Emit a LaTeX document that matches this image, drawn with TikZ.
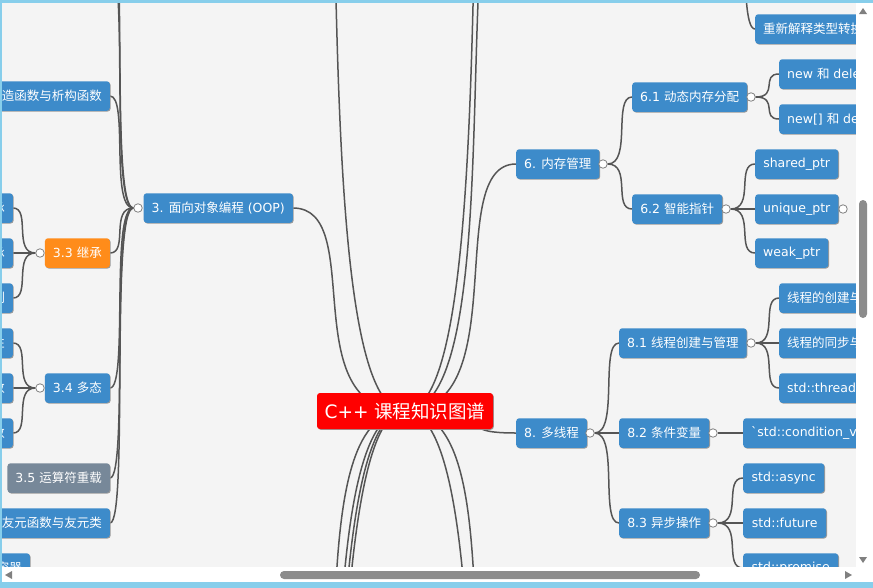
\documentclass[tikz,border=0pt]{standalone}
\usepackage{fontspec}
\setmainfont{DejaVu Sans}
\newfontfamily\cjk{Noto Sans CJK SC}
\usetikzlibrary{calc,shadows}
\definecolor{bgc}{HTML}{F4F4F4}
\definecolor{nodeblue}{HTML}{3D8BCA}
\definecolor{nodeorange}{HTML}{FF8C1A}
\definecolor{nodegray}{HTML}{778899}
\definecolor{rootred}{HTML}{FF0000}
\definecolor{linegray}{HTML}{555555}
\definecolor{framec}{HTML}{87CEEB}
\definecolor{thumbc}{HTML}{8C8C8C}
\definecolor{arrowc}{HTML}{808080}
\pgfdeclarelayer{bg}
\pgfdeclarelayer{lines}
\pgfdeclarelayer{front}
\pgfsetlayers{bg,lines,main,front}
\newcommand\zhtxt[1]{{\cjk #1}}
\newcommand\mmlink[2]{\draw[conn] (#1) .. controls ($(#1)!2/3!(#1 -| #2)$) and (#1 |- #2) .. (#2);}
\begin{document}
\begin{tikzpicture}[x=1pt,y=-1pt,
  mm/.style={rounded corners=3pt, text=white, minimum height=29.5pt, inner xsep=8pt, inner ysep=0pt,
    font=\fontsize{12.5}{14}\selectfont,
    general shadow={fill=black!40, shadow xshift=0.8pt, shadow yshift=-0.8pt}},
  bnode/.style={mm, fill=nodeblue},
  onode/.style={mm, fill=nodeorange},
  gnode/.style={mm, fill=nodegray},
  rnode/.style={rounded corners=3pt, fill=rootred, text=white, minimum height=36pt, minimum width=176pt,
    inner sep=0pt, font=\fontsize{18.5}{21}\selectfont,
    general shadow={fill=black!40, shadow xshift=0.8pt, shadow yshift=-0.8pt}},
  conn/.style={draw=linegray, line width=1.5pt},
  expd/.style={circle, draw=arrowc, fill=white, line width=0.8pt, minimum size=8.5pt, inner sep=0pt}]
\useasboundingbox (0,0) rectangle (873,587);
\begin{pgfonlayer}{bg}
\fill[bgc] (0,0) rectangle (873,587);
\end{pgfonlayer}

% off-screen anchor points
\coordinate (rc) at (405,411);
\coordinate (L1) at (293,-503);
\coordinate (LB1) at (293,791);
\coordinate (LB2) at (293,1112);
\coordinate (LB3) at (293,1311);
\coordinate (LB4) at (293,1486);
\coordinate (R1) at (516,-523);
\coordinate (R2) at (516,-172);
\coordinate (RB1) at (516,765);
\coordinate (RB2) at (516,1226);
\coordinate (O1) at (110,-35);
\coordinate (O2) at (110,-80);
\coordinate (cre) at (726,-150);

% right side
\node[bnode, anchor=west, minimum width=82pt] (n6) at (516,164) {6. \zhtxt{内存管理}};
\node[bnode, anchor=west, minimum width=114pt] (n61) at (632,97) {6.1 \zhtxt{动态内存分配}};
\node[bnode, anchor=west, minimum width=90pt] (n62) at (632,209) {6.2 \zhtxt{智能指针}};
\node[bnode, anchor=west] (n611) at (779,74) {new \zhtxt{和} delete};
\node[bnode, anchor=west] (n612) at (779,119) {new[] \zhtxt{和} delete[]};
\node[bnode, anchor=west, minimum width=83pt] (n621) at (755,164) {shared\_ptr};
\node[bnode, anchor=west, minimum width=83pt] (n622) at (755,209) {unique\_ptr};
\node[bnode, anchor=west, minimum width=73pt] (n623) at (755,253) {weak\_ptr};
\node[bnode, anchor=west] (nre) at (755,29) {\zhtxt{重新解释类型转换}};
\node[bnode, anchor=west, minimum width=70pt] (n8) at (516,433) {8. \zhtxt{多线程}};
\node[bnode, anchor=west, minimum width=127pt] (n81) at (619,343) {8.1 \zhtxt{线程创建与管理}};
\node[bnode, anchor=west, minimum width=90pt] (n82) at (619,433) {8.2 \zhtxt{条件变量}};
\node[bnode, anchor=west, minimum width=90pt] (n83) at (619,523) {8.3 \zhtxt{异步操作}};
\node[bnode, anchor=west] (n811) at (779,298) {\zhtxt{线程的创建与启动}};
\node[bnode, anchor=west] (n812) at (779,343) {\zhtxt{线程的同步与互斥}};
\node[bnode, anchor=west] (n813) at (779,388) {std::thread \zhtxt{类}};
\node[bnode, anchor=west] (n821) at (743,433) {\textasciigrave std::condition\_variable\textasciigrave};
\node[bnode, anchor=west, minimum width=81pt] (n831) at (743,478) {std::async};
\node[bnode, anchor=west, minimum width=83pt] (n832) at (743,523) {std::future};
\node[bnode, anchor=west, minimum width=95pt] (n833) at (743,568) {std::promise};

% left side
\node[bnode, anchor=east, minimum width=149pt] (noop) at (293,208) {3. \zhtxt{面向对象编程} (OOP)};
\node[bnode, anchor=east] (nctor) at (110,96) {\zhtxt{构造函数与析构函数}};
\node[onode, anchor=east, minimum width=64pt] (n33) at (110,253) {3.3 \zhtxt{继承}};
\node[bnode, anchor=east, minimum width=64pt] (n34) at (110,388) {3.4 \zhtxt{多态}};
\node[gnode, anchor=east, minimum width=102pt] (n35) at (110,478) {3.5 \zhtxt{运算符重载}};
\node[bnode, anchor=east] (n36) at (110,523) {3.6 \zhtxt{友元函数与友元类}};
\node[bnode, anchor=east] (n331) at (13,208) {\zhtxt{单继承}};
\node[bnode, anchor=east] (n332) at (13,253) {\zhtxt{多继承}};
\node[bnode, anchor=east] (n333) at (13,298) {\zhtxt{访问控制}};
\node[bnode, anchor=east] (n341) at (13,343) {\zhtxt{多态性}};
\node[bnode, anchor=east] (n342) at (13,388) {\zhtxt{虚函数}};
\node[bnode, anchor=east] (n343) at (13,433) {\zhtxt{纯虚函数}};
\node[bnode, anchor=east] (n4c) at (30,568) {\zhtxt{顺序容器}};

% expanders
\node[expd] (x6) at (603,164) {};
\node[expd] (x61) at (751,97) {};
\node[expd] (x62) at (726,209) {};
\node[expd] (x622) at (843,209) {};
\node[expd] (x8) at (590,433) {};
\node[expd] (x81) at (751,343) {};
\node[expd] (x82) at (713,433) {};
\node[expd] (x83) at (713,523) {};
\node[expd] (xoop) at (138,208) {};
\node[expd] (x33) at (40,253) {};
\node[expd] (x34) at (40,388) {};

\begin{pgfonlayer}{lines}
\mmlink{L1}{rc}
\mmlink{noop.east}{rc}
\mmlink{LB1}{rc}
\mmlink{LB2}{rc}
\mmlink{LB3}{rc}
\mmlink{LB4}{rc}
\mmlink{R1}{rc}
\mmlink{R2}{rc}
\mmlink{n6.west}{rc}
\mmlink{n8.west}{rc}
\mmlink{RB1}{rc}
\mmlink{RB2}{rc}
\mmlink{O1}{xoop}
\mmlink{O2}{xoop}
\mmlink{nctor.east}{xoop}
\mmlink{n33.east}{xoop}
\mmlink{n34.east}{xoop}
\mmlink{n35.east}{xoop}
\mmlink{n36.east}{xoop}
\mmlink{n331.east}{x33}
\mmlink{n332.east}{x33}
\mmlink{n333.east}{x33}
\mmlink{n341.east}{x34}
\mmlink{n342.east}{x34}
\mmlink{n343.east}{x34}
\mmlink{n61.west}{x6}
\mmlink{n62.west}{x6}
\mmlink{n611.west}{x61}
\mmlink{n612.west}{x61}
\mmlink{n621.west}{x62}
\mmlink{n622.west}{x62}
\mmlink{n623.west}{x62}
\mmlink{nre.west}{cre}
\mmlink{n81.west}{x8}
\mmlink{n82.west}{x8}
\mmlink{n83.west}{x8}
\mmlink{n811.west}{x81}
\mmlink{n812.west}{x81}
\mmlink{n813.west}{x81}
\mmlink{n821.west}{x82}
\mmlink{n831.west}{x83}
\mmlink{n832.west}{x83}
\mmlink{n833.west}{x83}
\end{pgfonlayer}

\node[rnode] (root) at (rc) {C++ \zhtxt{课程知识图谱}};

\begin{pgfonlayer}{front}
\fill[white] (856,3) rectangle (880,567);
\fill[white] (-5,567) rectangle (880,582);
\fill[framec] (-5,582) rectangle (880,600);
\fill[framec] (-5,-10) rectangle (880,3);
\fill[framec] (-10,-10) rectangle (1.5,600);
\fill[thumbc, rounded corners=4pt] (859,200) rectangle (867,318);
\fill[thumbc, rounded corners=4pt] (280,571) rectangle (700,579);
\fill[arrowc] (859,14) -- (867,14) -- (863,8) -- cycle;
\fill[arrowc] (859,557) -- (867,557) -- (863,563) -- cycle;
\fill[arrowc] (12,571) -- (12,579) -- (5,575) -- cycle;
\fill[arrowc] (845,571) -- (845,579) -- (852,575) -- cycle;
\end{pgfonlayer}
\end{tikzpicture}
\end{document}
